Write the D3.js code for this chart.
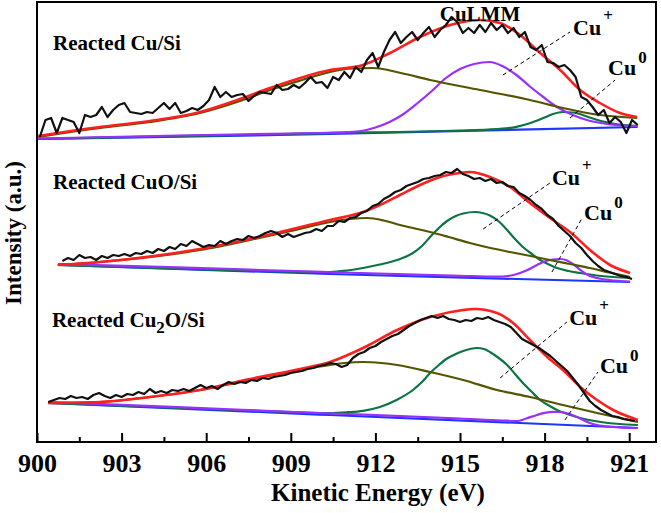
<!DOCTYPE html>
<html><head><meta charset="utf-8">
<script src="https://cdn.jsdelivr.net/npm/d3@7"></script>
<style>body{margin:0;background:#fff}svg{display:block}text{font-family:"Liberation Serif","Times New Roman",serif;font-weight:bold}</style>
</head><body><svg id="c" width="661" height="513"></svg>
<script>
// ---- X axis ----
const xDomain = [900, 921.95];
const xMajorTicks = [900, 903, 906, 909, 912, 915, 918, 921];
const xMinorTicks = [901.5, 904.5, 907.5, 910.5, 913.5, 916.5, 919.5];
const xTitle = "Kinetic Energy (eV)";
const yTitle = "Intensity (a.u.)";
const yDomain = [0, 440];

// ---- Panel 1: Reacted Cu/Si (raw data on 0.2 eV grid starting 900.1) ----
const cuSiStart = 900.1;
const cuSiRaw = [305,322,324,309,324,322,320,309,327,325,327,335,325,332,337,339,330,329,328,330,329,334,339,333,339,329,331,334,332,336,342,355,345,350,345,347,348,341,346,350,349,348,357,352,353,357,354,359,365,359,360,354,365,362,370,364,375,370,382,389,375,390,402,410,399,405,410,402,409,415,405,412,417,425,420,409,414,409,417,410,419,412,417,409,414,405,410,395,392,397,380,379,375,377,372,365,345,342,335,327,332,319,325,320,309,322,317];
const cuSiBase = [[900.04,303],[910.4,308],[921.3,315]];
const cuSiBroad = [[900.04,305],[902.23,314],[904.01,320],[905.78,329],[907.2,341],[908.26,352],[909.4,362],[910.39,370],[911.2,373.5],[911.91,374],[912.9,369],[913.94,362],[915.71,352],[917.48,342],[918.65,334],[919.96,327],[921.28,324]];
const cuSiCuPlus = [[900.04,303.5],[905,306.5],[909,308.5],[910,309],[911,309.8],[911.5,311],[912,314.5],[912.5,320],[913,328],[913.5,339],[914,351],[914.5,364],[915,373],[915.5,378],[916.06,380],[916.5,376],[917,367],[917.5,355],[918,344],[918.5,334],[919,327],[919.5,322],[920,319],[920.5,317],[921.3,316]];
const cuSiCu0 = [[900.04,303],[905,305.8],[910,308.7],[915,311.5],[916,312.4],[916.5,313.3],[917,315.2],[917.5,319],[918,324.5],[918.3,328],[918.65,330],[919,329.5],[919.3,327.5],[919.6,324.5],[920,321],[920.5,318],[921.28,316]];
const cuSiEnv = [[900.04,306],[902.23,315],[904.01,321],[905.78,330],[907.2,343],[908.26,354],[910.39,372],[911.56,377],[912.52,389],[913.58,405],[914.65,417],[915.71,422],[916.42,419],[917.13,407],[917.84,389],[918.55,372],[919.26,352],[919.96,339],[920.67,329],[921.28,325]];

// ---- Panel 2: Reacted CuO/Si ----
const cuoStart = 900.9;
const cuoRaw = [181,184,182,187,184,185,182,186,184,187,186,188,186,189,188,191,189,193,191,195,193,198,196,201,198,195,197,196,201,198,201,203,202,206,204,206,209,211,209,205,208,205,207,209,210,213,211,216,216,221,220,224,225,229,231,236,238,243,246,250,252,256,258,260,263,264,266,267,270,269,273,268,266,263,264,261,263,259,260,256,255,249,246,242,237,233,227,223,216,211,206,199,194,187,181,176,172,170,168,166,165,163];
const cuoBase = [[900.74,177],[910.39,168],[921.03,160]];
const cuoBroad = [[900.74,177],[902.23,180],[905.78,192],[907.55,202],[909,211],[910.39,220],[911.1,223],[911.7,224],[912.3,221.5],[912.87,217],[913.4,213.5],[913.94,210],[914.6,205],[915.35,199],[916,194.5],[916.77,190],[917.5,186],[918.19,182],[918.9,178],[919.61,174],[920.3,169.5],[921.03,165]];
const cuoCuPlus = [[900.74,177],[905,173.4],[908,171],[910.39,170],[911,171.5],[911.56,174],[912.16,177.5],[912.77,182],[913.33,189],[913.65,196],[913.94,205],[914.25,214],[914.54,221],[914.85,226],[915.11,228.5],[915.53,230],[915.8,229],[916.06,226.5],[916.4,220],[916.67,212],[916.95,203],[917.23,195],[917.55,188],[917.84,182],[918.15,177.5],[918.44,174],[918.85,171],[919.26,169],[920,166],[921.03,164]];
const cuoCu0 = [[900.74,178],[905,174.6],[910,170.2],[915,166.2],[916.3,165.3],[916.7,166],[917.02,168],[917.35,171.5],[917.73,177],[918.0,180.5],[918.3,182.5],[918.55,183],[918.8,181.5],[919.05,177],[919.36,170],[919.6,166],[919.86,164],[920.3,162],[921.03,160.5]];
const cuoEnv = [[900.74,177],[902.23,180],[905.78,193],[907.55,203],[910.39,222],[911.45,229],[912.16,237],[912.87,247],[913.58,257],[914.29,265],[915.0,269],[915.35,270],[916.06,265],[916.77,255],[917.48,239],[918.19,224],[918.9,210],[919.61,192],[920.32,177],[921.03,169]];

// ---- Panel 3: Reacted Cu2O/Si ----
const cu2oStart = 900.4;
const cu2oRaw = [40,42,44,43,46,44,45,43,47,49,46,44,47,45,48,47,50,48,53,49,51,49,52,51,53,51,54,57,54,56,53,57,60,58,60,59,62,61,64,63,65,66,67,69,70,71,73,74,76,77,79,78,75,77,84,88,90,94,96,100,103,106,108,112,116,119,122,124,126,124,126,123,122,120,122,121,124,123,125,122,120,118,115,109,103,100,97,94,90,86,81,76,71,64,57,49,41,36,32,29,26,25,23,22,21];
const cu2oBase = [[900.39,39],[910.39,27],[921.31,14]];
const cu2oBroad = [[900.39,39],[902.23,40],[904.01,45],[905.78,52],[907.55,62],[909.33,72],[910.39,77],[910.9,79],[911.56,80],[912.2,79],[912.77,77],[913.94,70],[915.11,62],[916.31,52],[917.48,45],[918.65,37],[919.86,29],[921.31,20]];
const cu2oCuPlus = [[900.39,39],[905,34],[908,31],[910.39,29],[911,29.8],[911.56,31.2],[912.16,35],[912.75,42],[913.33,52],[913.65,60],[913.94,69],[914.25,77],[914.54,83.5],[914.85,88],[915.11,91],[915.6,94],[915.85,93],[916.06,90],[916.35,84.5],[916.67,77],[916.95,68],[917.23,59],[917.55,50],[917.84,42],[918.15,36.5],[918.44,32],[918.85,27.5],[919.26,24],[920,20],[921.31,17]];
const cu2oCu0 = [[900.39,40],[905,34.8],[910,29],[915,23.5],[916.5,21.5],[917.02,21],[917.35,23.5],[917.73,27],[918.0,29.2],[918.3,30.2],[918.55,30],[918.9,28],[919.15,25],[919.36,22],[919.6,19],[919.86,17],[920.4,15.2],[921.31,14]];
const cu2oEnv = [[900.39,39],[902.23,40],[904.01,45],[905.78,52],[907.55,63],[909.33,73],[910.39,80],[911.56,94],[912.77,112],[913.94,125],[915.11,132],[915.53,133],[916.31,129],[916.88,119],[917.48,102],[918.09,85],[918.65,72],[919.26,55],[919.86,42],[920.43,32],[921.31,22]];

// ---- Annotations (data coordinates) ----
const panelTitles = [
  {parts:[["Reacted Cu/Si",0]], e:900.57, i:392},
  {parts:[["Reacted CuO/Si",0]], e:900.57, i:253},
  {parts:[["Reacted Cu",0],["2",1],["O/Si",2]], e:900.53, i:115}
];
const peakLabels = [
  {text:"CuLMM", e:915.71, i:421},
];
const speciesLabels = [
  {sup:"+", e:919.01, i:407, l:[[916.52,367],[918.9,410]]},
  {sup:"0", e:920.25, i:367, l:[[918.9,324],[920.5,362]]},
  {sup:"+", e:918.26, i:257, l:[[915.82,213],[918.19,259]]},
  {sup:"0", e:919.4, i:222, l:[[918.26,170],[919.33,224]]},
  {sup:"+", e:918.87, i:117, l:[[916.42,64],[918.79,120]]},
  {sup:"0", e:919.96, i:69, l:[[918.72,22],[919.89,70]]}
];

const colors = {raw:"#111111", env:"#ff1f1f", broad:"#555500", green:"#0d7443", purple:"#9a2fff", base:"#1c35ff"};

const svg = d3.select("#c");
const M = {l:37, r:656, t:2, b:442};
const x = d3.scaleLinear().domain(xDomain).range([M.l, M.r]);
const y = d3.scaleLinear().domain(yDomain).range([M.b, M.t]);

const smooth = d3.line().x(d=>x(d[0])).y(d=>y(d[1])).curve(d3.curveMonotoneX);
const raw = d3.line().x(d=>x(d[0])).y(d=>y(d[1]));

function toPts(start, arr){ return arr.map((v,k)=>[start + 0.2*k, v]); }

const panels = [
  {rawPts: toPts(cuSiStart, cuSiRaw), base: cuSiBase, broad: cuSiBroad, comps:[[cuSiCu0, colors.green],[cuSiCuPlus, colors.purple]], env: cuSiEnv},
  {rawPts: toPts(cuoStart, cuoRaw), base: cuoBase, broad: cuoBroad, comps:[[cuoCuPlus, colors.green],[cuoCu0, colors.purple]], env: cuoEnv},
  {rawPts: toPts(cu2oStart, cu2oRaw), base: cu2oBase, broad: cu2oBroad, comps:[[cu2oCuPlus, colors.green],[cu2oCu0, colors.purple]], env: cu2oEnv}
];

const g = svg.append("g");
panels.forEach(p=>{
  g.append("path").attr("d", smooth(p.base)).attr("fill","none").attr("stroke",colors.base).attr("stroke-width",2.2);
  p.comps.forEach(c=>{
    g.append("path").attr("d", smooth(c[0])).attr("fill","none").attr("stroke",c[1]).attr("stroke-width",2.2);
  });
  g.append("path").attr("d", smooth(p.broad)).attr("fill","none").attr("stroke",colors.broad).attr("stroke-width",2.2);
  g.append("path").attr("d", smooth(p.env)).attr("fill","none").attr("stroke",colors.env).attr("stroke-width",2.6);
  g.append("path").attr("d", raw(p.rawPts)).attr("fill","none").attr("stroke",colors.raw).attr("stroke-width",2.2).attr("stroke-linejoin","round");
});

// dashed leader lines & species labels
speciesLabels.forEach(s=>{
  g.append("line").attr("x1",x(s.l[0][0])).attr("y1",y(s.l[0][1])).attr("x2",x(s.l[1][0])).attr("y2",y(s.l[1][1]))
   .attr("stroke","#000").attr("stroke-width",1).attr("stroke-dasharray","4,3");
  const t = g.append("text").attr("x",x(s.e)).attr("y",y(s.i)).attr("font-size",22).attr("fill","#000");
  t.append("tspan").text("Cu");
  t.append("tspan").attr("dx",2).attr("dy", s.sup === "+" ? -14 : -12).attr("font-size",17).text(s.sup);
});
peakLabels.forEach(p=>{
  g.append("text").attr("x",x(p.e)).attr("y",y(p.i)).attr("text-anchor","middle").attr("font-size",21).text(p.text);
});
panelTitles.forEach(p=>{
  const t = g.append("text").attr("x",x(p.e)).attr("y",y(p.i)).attr("font-size",21);
  p.parts.forEach(pt=>{
    const ts = t.append("tspan").text(pt[0]);
    if(pt[1]===1) ts.attr("dy",6).attr("font-size",17);
    if(pt[1]===2) ts.attr("dy",-6);
  });
});

// frame
svg.append("rect").attr("x",M.l).attr("y",M.t).attr("width",M.r-M.l).attr("height",M.b-M.t)
  .attr("fill","none").attr("stroke","#000").attr("stroke-width",2);

// axis
const ax = svg.append("g").attr("transform",`translate(0,${M.b})`)
  .call(d3.axisBottom(x).tickValues(xMajorTicks).tickSizeInner(-9).tickSizeOuter(0).tickFormat(d3.format("d")));
ax.select(".domain").remove();
ax.selectAll(".tick line").attr("stroke","#000").attr("stroke-width",2);
ax.selectAll(".tick text").attr("y",30).attr("dy",0).attr("font-size",26).attr("fill","#000")
  .style("font-family",'"Liberation Serif","Times New Roman",serif').style("font-weight","bold");
const axm = svg.append("g").attr("transform",`translate(0,${M.b})`)
  .call(d3.axisBottom(x).tickValues(xMinorTicks).tickSizeInner(-5).tickSizeOuter(0).tickFormat(""));
axm.select(".domain").remove();
axm.selectAll(".tick line").attr("stroke","#000").attr("stroke-width",2);

svg.append("text").attr("x",378).attr("y",501).attr("text-anchor","middle").attr("font-size",25).text(xTitle);
svg.append("text").attr("transform","translate(21,233) rotate(-90)").attr("text-anchor","middle").attr("font-size",23).text(yTitle);
</script></body></html>
